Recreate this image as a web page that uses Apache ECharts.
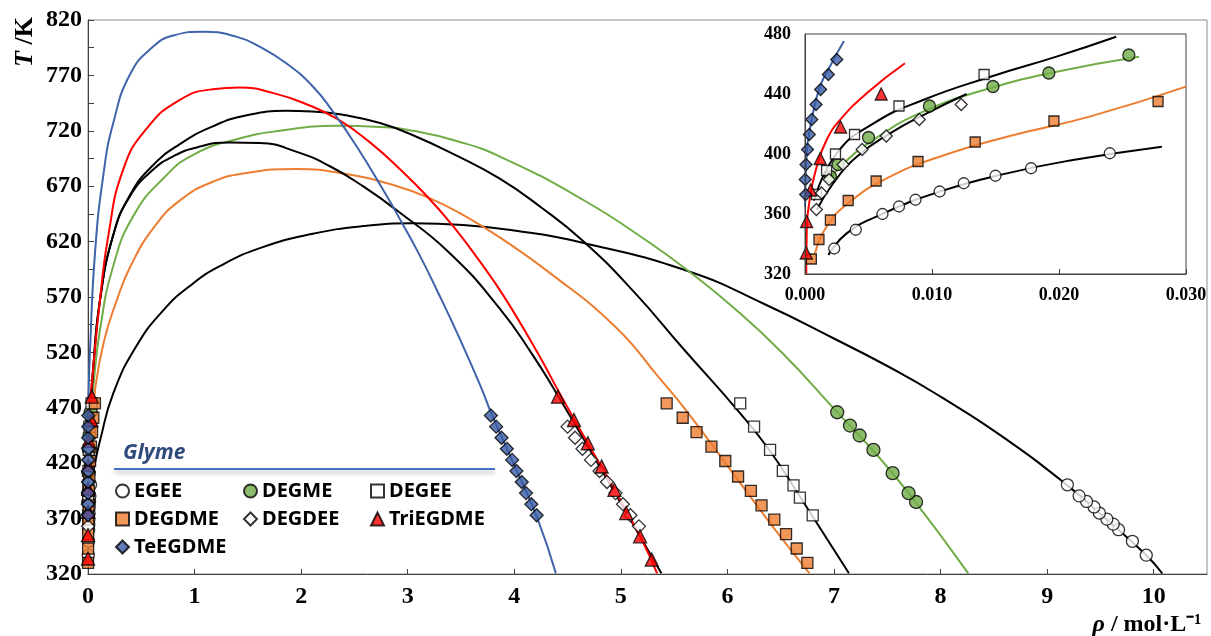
<!DOCTYPE html>
<html>
<head>
<meta charset="utf-8">
<script src="https://cdn.jsdelivr.net/npm/echarts/dist/echarts.min.js"></script>
<style>
  html, body { margin: 0; padding: 0; background: #fff; }
  #chart { width: 1211px; height: 636px; }
</style>
</head>
<body>
<div id="chart"></div>
<script>
// coexistence data: T in K, rho in mol/L
const egeeT = [337, 349.5, 360, 365, 369.5, 375, 380.5, 385.5, 390.5, 400.5]
const egeeLiq = [9.93, 9.80, 9.67, 9.62, 9.56, 9.49, 9.44, 9.37, 9.30, 9.19]
const egeeVap = [0.0023, 0.0040, 0.0061, 0.0074, 0.0087, 0.0106, 0.0125, 0.0150, 0.0178, 0.0240]

const degmeT = [385, 393, 411, 432, 445, 454, 466]
const degmeLiq = [7.77, 7.70, 7.55, 7.37, 7.24, 7.15, 7.03]
const degmeVap = [0.0020, 0.0026, 0.0050, 0.0098, 0.0148, 0.0192, 0.0255]

const degeeT = [373, 389, 400, 413, 432, 453, 474]
const degeeLiq = [6.80, 6.68, 6.62, 6.52, 6.40, 6.25, 6.12]
const degeeVap = [0.0009, 0.0017, 0.0024, 0.0039, 0.0074, 0.0141, 0.033]

const degdmeT = [330, 343, 356, 369, 382, 395, 408, 422, 435, 448, 461, 474]
const degdmeLiq = [6.75, 6.65, 6.55, 6.44, 6.32, 6.22, 6.10, 5.98, 5.85, 5.71, 5.58, 5.43]
const degdmeVap = [0.0005, 0.0011, 0.0020, 0.0034, 0.0056, 0.0089, 0.0134, 0.0196, 0.0278, 0.038, 0.050, 0.065]

const degdeeLiqT = [363, 373, 383, 393, 403, 413, 423, 433, 443, 453]
const degdeeLiq = [5.17, 5.09, 5.02, 4.95, 4.87, 4.80, 4.72, 4.64, 4.57, 4.50]
const degdeeVapT = [363, 374, 383, 393, 403, 412, 423, 433]
const degdeeVap = [0.0009, 0.0013, 0.0019, 0.0030, 0.0045, 0.0064, 0.0090, 0.0123]

const triegdmeLiqT = [333, 354, 375, 396, 417, 438, 459, 480]
const triegdmeLiq = [5.29, 5.18, 5.05, 4.94, 4.82, 4.69, 4.56, 4.41]
const triegdmeVapT = [334, 355, 376, 397, 418, 440, 459, 480]
const triegdmeVap = [0.0001, 0.00013, 0.00045, 0.0012, 0.0028, 0.0060, 0.032, 0.036]

const teegdmeT = [373, 383, 393, 403, 413, 423, 433, 443, 453, 463]
const teegdmeLiq = [4.21, 4.16, 4.11, 4.07, 4.02, 3.98, 3.93, 3.88, 3.83, 3.78]
const teegdmeVap = [0.00005, 0.00002, 0.00008, 0.0002, 0.00034, 0.00053, 0.00087, 0.00123, 0.00184, 0.0025]

// fitted curves, [rho, T]
const egeeFit = [[0.028, 405], [0.06, 418], [0.112, 440], [0.237, 483], [0.456, 526], [0.706, 558], [0.956, 580], [1.24, 598], [1.64, 615], [2.11, 627], [2.58, 634], [3.05, 636.5], [3.52, 635], [4.0, 630], [4.64, 619], [5.64, 593], [6.36, 563], [6.99, 533], [7.61, 502], [8.0, 480], [8.55, 446], [9.19, 400], [9.56, 369], [9.93, 337], [10.08, 320.6]]
const degmeFit = [[0.0263, 465], [0.05, 490], [0.112, 540], [0.237, 598], [0.425, 643], [0.706, 677], [1.0, 699], [1.42, 713], [1.8, 720], [2.33, 724.5], [2.74, 723.5], [3.05, 720], [3.45, 711], [3.86, 697], [4.64, 658], [5.27, 619], [5.64, 593], [6.05, 561], [6.52, 519], [7.02, 467], [7.37, 431], [7.70, 393], [8.26, 320.6]]
const degeeFit = [[0.0245, 478], [0.05, 507], [0.112, 567], [0.237, 626], [0.394, 662], [0.6, 688], [0.862, 708], [1.17, 724], [1.49, 734], [1.86, 738], [2.1, 737.5], [2.42, 734], [2.74, 727], [3.05, 716], [3.45, 698], [3.86, 677], [4.25, 651], [4.64, 621], [5.11, 576], [5.58, 524], [6.12, 465], [6.40, 431], [6.68, 390], [7.14, 320.6]]
const degdmeFit = [[0.028, 445], [0.066, 486], [0.15, 530], [0.27, 567], [0.40, 598], [0.62, 633], [0.86, 657], [1.17, 674], [1.49, 682], [1.96, 685.5], [2.42, 681], [2.90, 670], [3.21, 659], [3.52, 644], [3.86, 624], [4.33, 592], [4.95, 543], [5.36, 497], [5.61, 468], [6.06, 410], [6.40, 366], [6.77, 320.6]]
const degdeeFit = [[0.0127, 440], [0.05, 507], [0.112, 567], [0.237, 626], [0.394, 661], [0.612, 685], [0.8, 697], [1.02, 705], [1.33, 709.5], [1.61, 709], [1.96, 701], [2.27, 688], [2.58, 670], [2.90, 648], [3.39, 610], [3.86, 560], [4.17, 518], [4.39, 484], [4.88, 404], [5.38, 320.6]]
const triegdmeFit = [[0.008, 460], [0.05, 507], [0.112, 567], [0.19, 625], [0.33, 685], [0.55, 722], [0.862, 748], [1.17, 757.5], [1.42, 759], [1.74, 754], [2.05, 744], [2.35, 730], [2.64, 710], [2.92, 686], [3.19, 660], [3.45, 631], [3.67, 603], [3.90, 571], [4.24, 516], [4.42, 484], [4.69, 438], [4.94, 396], [5.18, 354], [5.34, 320.6]]
const teegdmeFit = [[0.003, 475], [0.019, 522], [0.066, 610], [0.144, 680], [0.237, 727], [0.40, 772], [0.612, 796], [0.80, 806], [1.08, 809.5], [1.39, 805], [1.61, 796], [1.86, 781], [2.11, 760], [2.30, 737], [2.52, 706], [2.78, 665], [2.94, 638], [3.11, 608], [3.28, 575], [3.49, 532], [3.69, 488], [3.78, 466], [4.00, 418], [4.21, 372], [4.39, 320.6]]

// vapour branch fits shown in the inset
const egeeVapFit = [[0.00184, 332.7], [0.00328, 347.1], [0.0059, 359.3], [0.0106, 374.9], [0.0159, 387.1], [0.0211, 396], [0.0281, 404.9]]
const degmeVapFit = [[0.002, 382.7], [0.00276, 391.5], [0.00538, 409.3], [0.00931, 428.2], [0.01457, 443.8], [0.01982, 454.9], [0.0263, 464.9]]
const degeeVapFit = [[0.0007, 369], [0.0025, 400.4], [0.0054, 420.4], [0.0093, 436], [0.0146, 451.5], [0.0198, 464.9], [0.0245, 478.2]]
const degdmeVapFit = [[0.00079, 333.8], [0.0017, 351.5], [0.00354, 368.2], [0.0067, 384.9], [0.0106, 398.2], [0.0159, 411.5], [0.0224, 424.9], [0.030, 444.9]]
const degdeeVapFit = [[0.00092, 362.7], [0.00223, 380.5], [0.00407, 398.2], [0.0067, 413.8], [0.00958, 427.1], [0.01273, 440]]
const triegdmeVapFit = [[0.0001, 320.4], [0.00013, 344.9], [0.0004, 371.5], [0.00092, 391.5], [0.0017, 409.3], [0.00276, 422.7], [0.00486, 440.5], [0.00787, 460.5]]
const teegdmeVapFit = [[0, 365], [0.00013, 400.5], [0.00053, 422.7], [0.00118, 444.9], [0.0021, 460.5], [0.00307, 475.3]]

const pairs = (rho, T) => rho.map((r, i) => [r, T[i]])

const glymes = [
  { name: 'EGEE', symbol: 'circle', fill: '#ffffff', line: '#000000', size: 12,
    points: pairs(egeeLiq, egeeT).concat(pairs(egeeVap, egeeT)), fit: egeeFit, vapFit: egeeVapFit },
  { name: 'DEGME', symbol: 'circle', fill: '#70ad47', line: '#70ad47', size: 13,
    points: pairs(degmeLiq, degmeT).concat(pairs(degmeVap, degmeT)), fit: degmeFit, vapFit: degmeVapFit },
  { name: 'DEGEE', symbol: 'rect', fill: '#ffffff', line: '#000000', size: 11,
    points: pairs(degeeLiq, degeeT).concat(pairs(degeeVap, degeeT)), fit: degeeFit, vapFit: degeeVapFit },
  { name: 'DEGDME', symbol: 'rect', fill: '#ed7d31', line: '#ed7d31', size: 11,
    points: pairs(degdmeLiq, degdmeT).concat(pairs(degdmeVap, degdmeT)), fit: degdmeFit, vapFit: degdmeVapFit },
  { name: 'DEGDEE', symbol: 'diamond', fill: '#ffffff', line: '#000000', size: 13,
    points: pairs(degdeeLiq, degdeeLiqT).concat(pairs(degdeeVap, degdeeVapT)), fit: degdeeFit, vapFit: degdeeVapFit },
  { name: 'TriEGDME', symbol: 'triangle', fill: '#ff0000', line: '#ff0000', size: 13,
    points: pairs(triegdmeLiq, triegdmeLiqT).concat(pairs(triegdmeVap, triegdmeVapT)), fit: triegdmeFit, vapFit: triegdmeVapFit },
  { name: 'TeEGDME', symbol: 'diamond', fill: '#3a5da5', line: '#3f63aa', size: 13,
    points: pairs(teegdmeLiq, teegdmeT).concat(pairs(teegdmeVap, teegdmeT)), fit: teegdmeFit, vapFit: teegdmeVapFit },
]

const serifBold = { fontFamily: 'Liberation Serif', fontWeight: 'bold', color: '#000' }
const axisDark = '#404040'

const series = []
glymes.forEach((g) => {
  series.push({
    type: 'line', xAxisIndex: 0, yAxisIndex: 0, data: g.fit, showSymbol: false,
    smooth: 0.5, silent: true, z: 2,
    lineStyle: { color: g.line, width: 2 },
  })
  series.push({
    type: 'line', xAxisIndex: 1, yAxisIndex: 1, data: g.vapFit, showSymbol: false,
    smooth: 0.5, silent: true, z: 6,
    lineStyle: { color: g.line, width: 2 },
  })
})
glymes.forEach((g) => {
  const style = { color: g.fill, borderColor: '#000', borderWidth: 1.3 }
  series.push({
    name: g.name, type: 'scatter', xAxisIndex: 0, yAxisIndex: 0, data: g.points,
    symbol: g.symbol, symbolSize: g.size, itemStyle: style, z: 3,
  })
  series.push({
    name: g.name, type: 'scatter', xAxisIndex: 1, yAxisIndex: 1, data: g.points,
    symbol: g.symbol, symbolSize: g.size - 1, itemStyle: style, z: 7,
  })
})

const legendText = { fontFamily: 'Noto Sans', fontWeight: 'bold', fontSize: 20, color: '#000', lineHeight: 20 }
const legendCol = (left, data) => ({
  orient: 'vertical', left: left, top: 481, data: data, selectedMode: false,
  itemWidth: 13, itemHeight: 13, itemGap: 8, padding: 0, textStyle: legendText,
})

const option = {
  animation: false,
  backgroundColor: '#fff',
  grid: [
    { left: 88, top: 20, right: 4, bottom: 62, show: true, borderColor: '#8c8c8c', borderWidth: 1 },
    { left: 805, top: 34, width: 381, height: 240, show: true, backgroundColor: '#fff', borderColor: axisDark, borderWidth: 1, z: 4 },
  ],
  xAxis: [
    {
      type: 'value', gridIndex: 0, min: 0, max: 10.5, interval: 1,
      axisLine: { lineStyle: { color: axisDark } },
      axisTick: { inside: true, length: 5, lineStyle: { color: axisDark } },
      axisLabel: Object.assign({ fontSize: 24, margin: 11, showMaxLabel: false }, serifBold),
      splitLine: { show: false },
    },
    {
      type: 'value', gridIndex: 1, min: 0, max: 0.03, interval: 0.01, z: 8,
      axisLine: { lineStyle: { color: axisDark } },
      axisTick: { inside: true, length: 5, lineStyle: { color: axisDark } },
      axisLabel: Object.assign({ fontSize: 18, margin: 12, formatter: (v) => v.toFixed(3) }, serifBold),
      splitLine: { show: false },
    },
  ],
  yAxis: [
    {
      type: 'value', gridIndex: 0, min: 320, max: 820, interval: 50,
      axisLine: { lineStyle: { color: axisDark } },
      axisTick: { inside: true, length: 6, lineStyle: { color: axisDark } },
      minorTick: { show: true, splitNumber: 2, length: 6, lineStyle: { color: axisDark } },
      axisLabel: Object.assign({ fontSize: 24, margin: 6 }, serifBold),
      splitLine: { show: false },
    },
    {
      type: 'value', gridIndex: 1, min: 320, max: 480, interval: 40, z: 8,
      axisLine: { lineStyle: { color: axisDark } },
      axisTick: { show: false },
      axisLabel: Object.assign({ fontSize: 18, margin: 14 }, serifBold),
      splitLine: { show: false },
    },
  ],
  legend: [
    legendCol(115, ['EGEE', 'DEGDME', 'TeEGDME']),
    legendCol(243, ['DEGME', 'DEGDEE']),
    legendCol(370, ['DEGEE', 'TriEGDME']),
  ],
  graphic: [
    {
      type: 'text', x: 25, y: 42, rotation: Math.PI / 2,
      style: {
        text: '{i|T}{n| /K}', align: 'center', verticalAlign: 'middle', textAlign: 'center', textVerticalAlign: 'middle',
        rich: {
          i: { fontFamily: 'Liberation Serif', fontWeight: 'bold', fontStyle: 'italic', fontSize: 26, fill: '#000' },
          n: { fontFamily: 'Liberation Serif', fontWeight: 'bold', fontSize: 26, fill: '#000' },
        },
      },
    },
    {
      type: 'text', x: 1147, y: 625,
      style: {
        text: '{i|ρ}{n| / mol·L⁻¹}', align: 'center', verticalAlign: 'middle', textAlign: 'center', textVerticalAlign: 'middle',
        rich: {
          i: { fontFamily: 'Liberation Serif', fontWeight: 'bold', fontStyle: 'italic', fontSize: 24, fill: '#000' },
          n: { fontFamily: 'Liberation Serif', fontWeight: 'bold', fontSize: 24, fill: '#000' },
        },
      },
    },
    {
      type: 'text', x: 123, y: 453,
      style: {
        text: 'Glyme', font: 'italic bold 21px "Noto Sans"', fill: '#2f4b7c',
        align: 'left', verticalAlign: 'middle', textAlign: 'left', textVerticalAlign: 'middle',
      },
    },
    {
      type: 'line', shape: { x1: 114, y1: 469, x2: 495, y2: 469 },
      style: { stroke: '#4472c4', lineWidth: 2, shadowBlur: 4, shadowOffsetY: 3, shadowColor: 'rgba(0,0,0,0.3)' },
    },
  ],
  series: series,
}

const myChart = echarts.init(document.getElementById('chart'))
myChart.setOption(option)
</script>
</body>
</html>
